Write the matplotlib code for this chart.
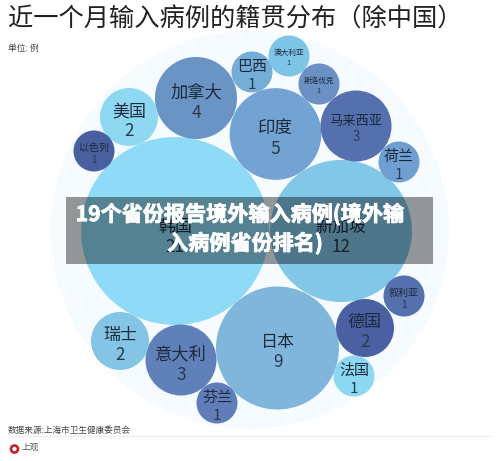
# Bubble chart of imported cases by nationality

import numpy as np
import matplotlib.pyplot as plt
import matplotlib.patheffects as pe
from matplotlib.patches import Circle, Rectangle

plt.rcParams['font.family'] = ['Noto Sans CJK SC', 'DejaVu Sans']

countries = ["韩国", "新加坡", "日本", "印度", "加拿大", "马来西亚", "意大利", "美国", "瑞士", "德国",
             "巴西", "澳大利亚", "斯洛伐克", "荷兰", "以色列", "芬兰", "法国", "叙利亚"]
cases = [21, 12, 9, 5, 4, 3, 3, 2, 2, 2, 1, 1, 1, 1, 1, 1, 1, 1]

# bubble layout (packed layout has no axis)
layout_x = [175, 341, 277.5, 275.5, 196, 356, 181, 129, 120, 365, 252, 289, 319, 399, 94, 217, 354, 404]
layout_y = [231, 231, 348, 134, 98, 126, 360, 117, 341, 328, 72, 56, 84, 162, 151, 403, 376, 296]

colors = ["#8fdaf6", "#82c6e8", "#80b5dc", "#72a3d3", "#6a94c4", "#5470ae", "#6080ba", "#8ed8f2", "#84c4e4",
          "#4a60a2", "#74add6", "#7ec4e6", "#6a90c4", "#6f9fd0", "#4a5fa0", "#5f7db8", "#8cd8f2", "#5570ae"]
label_px = [17, 17, 17, 17.5, 17.3, 13.3, 17.3, 17, 17, 17, 15, 7.7, 7.7, 15, 10, 15, 15, 10]

fig = plt.figure(figsize=(5, 4.61), dpi=100)
ax = fig.add_axes([0, 0, 1, 1])
ax.set_xlim(0, 500)
ax.set_ylim(461, 0)
ax.axis("off")

# outer pale circle
ax.add_patch(Circle((250, 230), 199, color="#f5fbff", lw=0, zorder=1))

for name, value, x, y, c, px in zip(countries, cases, layout_x, layout_y, colors, label_px):
    r = 20.5 * np.sqrt(value)
    ax.add_patch(Circle((x, y), r, color=c, lw=0, zorder=2))
    # the two biggest labels sit a little lower
    shift = 2 if value >= 12 else 0
    ax.text(x, y - 0.35 * px + shift, name, fontsize=px * 0.72, color="#1c2a3c", ha="center", va="center", zorder=3)
    ax.text(x, y + 0.85 * px + shift, str(value), fontsize=px * 0.72, color="#2b3a4c", ha="center", va="center", zorder=3)

# title and notes
ax.text(8, 20, "近一个月输入病例的籍贯分布（除中国）", fontsize=18.2, color="#222222", ha="left", va="center")
ax.text(8, 48, "单位: 例", fontsize=6.3, color="#444444", ha="left", va="center")
ax.text(8, 430, "数据来源:上海市卫生健康委员会", fontsize=6.2, color="#444444", ha="left", va="center")
ax.plot([8, 492], [435.5, 435.5], color="#eeeeee", lw=1, zorder=1)

# logo
ax.add_patch(Circle((14.5, 449), 3.5, fill=False, ec="#c0232d", lw=1.9))
ax.text(30.5, 447, "上观", fontsize=6.2, color="#555555", ha="center", va="center")

# banner on top
ax.add_patch(Rectangle((66, 197), 367, 67, color="black", alpha=0.4, lw=0, zorder=5))
stroke = [pe.withStroke(linewidth=0.6, foreground="white")]
ax.text(240, 214, "19个省份报告境外输入病例(境外输", fontsize=15.2, fontweight="bold", color="white",
        ha="center", va="center", zorder=6, path_effects=stroke)
ax.text(245, 243, "入病例省份排名)", fontsize=15.2, fontweight="bold", color="white",
        ha="center", va="center", zorder=6, path_effects=stroke)

plt.savefig("out.png", dpi=100)
